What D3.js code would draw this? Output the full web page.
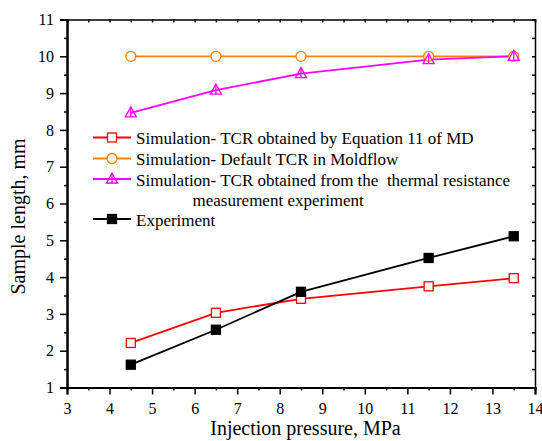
<!DOCTYPE html>
<html>
<head>
<meta charset="utf-8">
<script src="https://cdn.jsdelivr.net/npm/d3@7"></script>
<style>
  html, body { margin: 0; padding: 0; background: #fff; }
  svg { display: block; }
  svg text { font-family: "Liberation Serif", "Times New Roman", serif !important; white-space: pre; fill: #000; }
</style>
</head>
<body>
<svg id="chart" width="542" height="441"></svg>
<script>
// Injection pressure (MPa) at which each sample was moulded
const pressures = [4.5, 6.5, 8.5, 11.5, 13.5];

// Sample length (mm) per series
const eq11Values        = [2.21, 3.03, 3.41, 3.75, 3.97];
const defaultTcrValues  = [10.0, 10.0, 10.0, 10.0, 10.0];
const measuredTcrValues = [8.46, 9.08, 9.53, 9.91, 10.0];
const experimentValues  = [1.62, 2.57, 3.60, 4.52, 5.11];

const seriesNames = [
  "Simulation- TCR obtained by Equation 11 of MD",
  "Simulation- Default TCR in Moldflow",
  "Simulation- TCR obtained from the  thermal resistance",
  "Experiment"
];
const seriesNameContinuation = "measurement experiment";

const xTicks = [3, 4, 5, 6, 7, 8, 9, 10, 11, 12, 13, 14];
const yTicks = [1, 2, 3, 4, 5, 6, 7, 8, 9, 10, 11];

const svg = d3.select("#chart");
const plotLeft = 67, plotRight = 535, plotTop = 19.5, plotBottom = 387.5;

const x = d3.scaleLinear().domain([3, 14]).range([plotLeft, plotRight]);
const y = d3.scaleLinear().domain([1, 11]).range([plotBottom, plotTop]);

const series = [
  { values: eq11Values,        color: "#ff0000", marker: "square" },
  { values: defaultTcrValues,  color: "#ff8000", marker: "circle" },
  { values: measuredTcrValues, color: "#ff00ff", marker: "triangle" },
  { values: experimentValues,  color: "#000000", marker: "filledSquare" }
];

const halfTicks = d3.range(3, 14.01, 0.5);
const yHalfTicks = d3.range(1, 11.01, 0.5);

// Axes: major ticks outside on bottom/left, half-unit minor ticks
const gx = svg.append("g").attr("transform", `translate(0,${plotBottom})`)
  .call(d3.axisBottom(x).tickValues(xTicks).tickFormat(d3.format("d")).tickSize(7).tickPadding(8));
const gxMinor = svg.append("g").attr("transform", `translate(0,${plotBottom})`)
  .call(d3.axisBottom(x).tickValues(halfTicks.filter(v => v % 1 !== 0)).tickFormat("").tickSize(3));
const gy = svg.append("g").attr("transform", `translate(${plotLeft},0)`)
  .call(d3.axisLeft(y).tickValues(yTicks).tickFormat(d3.format("d")).tickSize(7).tickPadding(6));
const gyMinor = svg.append("g").attr("transform", `translate(${plotLeft},0)`)
  .call(d3.axisLeft(y).tickValues(yHalfTicks.filter(v => v % 1 !== 0)).tickFormat("").tickSize(3));
// Top and right frame with small inward ticks
const gTop = svg.append("g").attr("transform", `translate(0,${plotTop})`)
  .call(d3.axisTop(x).tickValues(halfTicks).tickFormat("").tickSize(-3));
const gRight = svg.append("g").attr("transform", `translate(${plotRight},0)`)
  .call(d3.axisRight(y).tickValues(yHalfTicks).tickFormat("").tickSize(-3));

[gx, gxMinor, gy, gyMinor, gTop, gRight].forEach(g => {
  g.attr("font-size", 16);
  g.select(".domain").attr("stroke", "#000").attr("stroke-width", 2);
  g.selectAll(".tick line").attr("stroke", "#000").attr("stroke-width", 1.5);
});
[gTop, gRight].forEach(g => g.select(".domain").attr("stroke-width", 1.5));

// Axis titles
svg.append("text")
  .attr("x", 305.5).attr("y", 435)
  .attr("text-anchor", "middle").attr("font-size", 20)
  .text("Injection pressure, MPa");
svg.append("text")
  .attr("transform", "translate(25,216.5) rotate(-90)")
  .attr("text-anchor", "middle").attr("font-size", 20)
  .text("Sample length, mm");

function drawMarker(g, type, cx, cy, color) {
  if (type === "square" || type === "filledSquare") {
    g.append("rect").attr("x", cx - 4.5).attr("y", cy - 4.5)
      .attr("width", 9).attr("height", 9)
      .attr("fill", type === "filledSquare" ? color : "#fff")
      .attr("stroke", color).attr("stroke-width", 1.3);
  } else if (type === "circle") {
    g.append("circle").attr("cx", cx).attr("cy", cy).attr("r", 5)
      .attr("fill", "#fff").attr("stroke", color).attr("stroke-width", 1.3);
  } else if (type === "triangle") {
    g.append("path")
      .attr("d", `M${cx},${cy - 6}L${cx + 5.5},${cy + 4}L${cx - 5.5},${cy + 4}Z`)
      .attr("fill", "none").attr("stroke", color).attr("stroke-width", 1.3);
    g.append("path")
      .attr("d", `M${cx},${cy - 6}V${cy + 4}`)
      .attr("stroke", color).attr("stroke-width", 1.3);
  }
}

const line = d3.line().x((d, i) => x(pressures[i])).y(d => y(d));
const plot = svg.append("g");
series.forEach(s => {
  plot.append("path").datum(s.values).attr("d", line)
    .attr("fill", "none").attr("stroke", s.color).attr("stroke-width", 1.8);
});
series.forEach(s => {
  const g = plot.append("g");
  s.values.forEach((v, i) => drawMarker(g, s.marker, x(pressures[i]), y(v), s.color));
});

// Legend
const legendRows = [137.5, 158.5, 179, 219];
const legend = svg.append("g");
series.forEach((s, i) => {
  const ly = legendRows[i];
  legend.append("line").attr("x1", 93).attr("x2", 131).attr("y1", ly).attr("y2", ly)
    .attr("stroke", s.color).attr("stroke-width", 1.8);
  drawMarker(legend, s.marker, 112, ly, s.color);
  legend.append("text").attr("x", 136).attr("y", ly + 6.5)
    .attr("font-size", 17).text(seriesNames[i]);
});
legend.append("text").attr("x", 192.5).attr("y", 199 + 6.5)
  .attr("font-size", 17).text(seriesNameContinuation);
</script>
</body>
</html>
